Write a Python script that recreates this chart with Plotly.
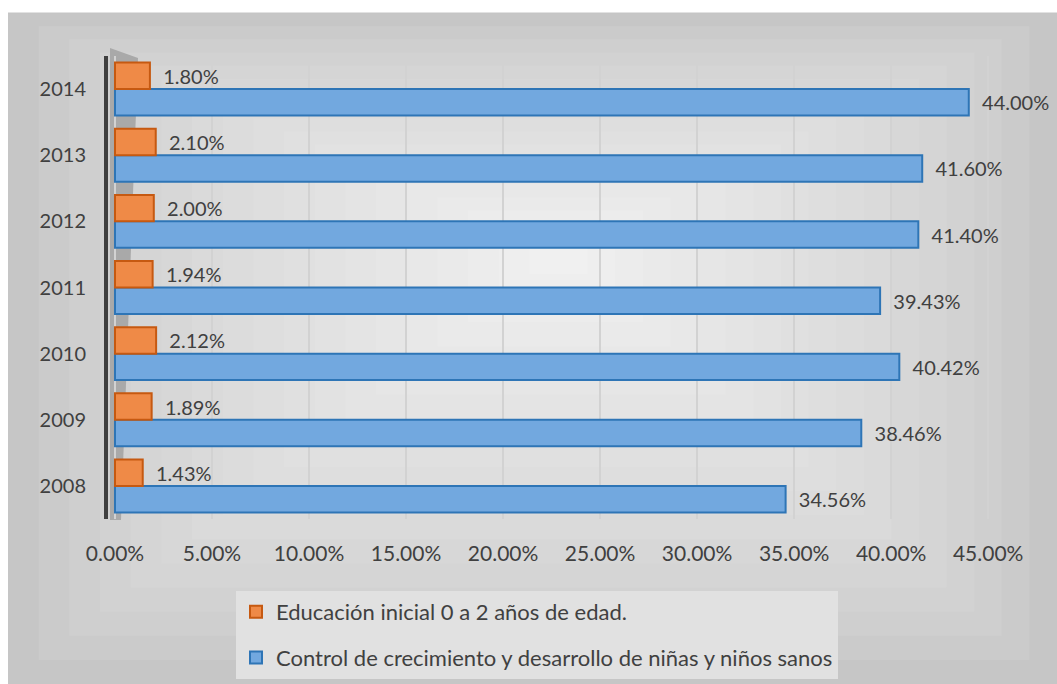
import plotly.graph_objects as go

years = ["2008", "2009", "2010", "2011", "2012", "2013", "2014"]
educacion = [1.43, 1.89, 2.12, 1.94, 2.00, 2.10, 1.80]
control = [34.56, 38.46, 40.42, 39.43, 41.40, 41.60, 44.00]
name_edu = "Educación inicial 0 a 2 años de edad."
name_ctrl = "Control de crecimiento y desarrollo de niñas y niños sanos"

W, H = 1057, 684
L, R, T, B = 108, 30, 56, 165
pw, ph = W - L - R, H - T - B
XMIN, XMAX = -0.36, 47

def px_x(p):
    return (p - L) / pw

def px_y(p):
    return (H - B - p) / ph

FONT = "Lato"
TXT = "#404040"
FS = 21

fig = go.Figure()
fig.add_trace(go.Bar(
    y=years, x=control, orientation="h", name=name_ctrl,
    marker=dict(color="#72a8df", line=dict(color="#2e75b6", width=2)),
    texttemplate="  %{x:.2f}%", textposition="outside",
    textfont=dict(family=FONT, size=20, color=TXT),
    cliponaxis=False, legendrank=2, legendgroup="b",
))
fig.add_trace(go.Bar(
    y=years, x=educacion, orientation="h", name=name_edu,
    marker=dict(color="#ef8a47", line=dict(color="#c65911", width=2)),
    texttemplate="  %{x:.2f}%", textposition="outside",
    textfont=dict(family=FONT, size=20, color=TXT),
    cliponaxis=False, legendrank=1, legendgroup="a",
))

# background vignette (decorative)
shapes = []
x0p, x1p, y0p, y1p = 8, W, 13, H
cx, cy = 560, 250
n = 18
c_out, c_in = 0xc6, 0xf0
for i in range(n):
    f = i / n
    ax0 = x0p + (cx - x0p) * f
    ax1 = x1p - (x1p - cx) * f
    ay0 = y0p + (cy - y0p) * f
    ay1 = y1p - (y1p - cy) * f
    c = int(c_out + (c_in - c_out) * (i / (n - 1)) ** 0.7)
    col = f"rgb({c},{c},{c})"
    shapes.append(dict(type="rect", xref="paper", yref="paper", layer="below",
                       x0=px_x(ax0), x1=px_x(ax1), y0=px_y(ay1), y1=px_y(ay0),
                       fillcolor=col, line=dict(width=0)))
# thin top border of the panel
shapes.append(dict(type="line", xref="paper", yref="paper", layer="below",
                   x0=px_x(8), x1=px_x(W), y0=px_y(13), y1=px_y(13),
                   line=dict(color="#c4c4c4", width=1)))
# grey side wall next to the vertical axis
p1, p2, p3 = px_x(110), px_x(138), px_x(121)
ytop, ybot = px_y(48), px_y(520)
shapes.append(dict(type="path", xref="paper", yref="paper", layer="below",
                   path=f"M {p1} {ytop} L {p2} {px_y(58)} L {p3} {ybot} L {p1} {ybot} Z",
                   fillcolor="#a9a9a9", line=dict(width=0)))
fig.update_layout(shapes=shapes)

fig.update_layout(
    width=W, height=H,
    margin=dict(l=L, r=R, t=T, b=B, autoexpand=False),
    paper_bgcolor="white", plot_bgcolor="rgba(0,0,0,0)",
    barmode="group", bargap=0.2, bargroupgap=0,
    font=dict(family=FONT, size=FS, color=TXT),
    showlegend=True,
    legend=dict(
        x=px_x(236), y=px_y(591),
        xanchor="left", yanchor="top", bgcolor="#e1e1e1",
        font=dict(family=FONT, size=22, color=TXT),
        traceorder="grouped", tracegroupgap=14,
    ),
    xaxis=dict(
        range=[XMIN, XMAX], tick0=0, dtick=5, tickformat=".2f", ticksuffix="%",
        tickangle=0,
        showgrid=True, gridcolor="#d2d2d2", gridwidth=1.5, zeroline=False,
        showline=False, ticks="", ticklabelstandoff=20,
        tickfont=dict(family=FONT, size=FS, color=TXT),
    ),
    yaxis=dict(
        type="category", showgrid=False, zeroline=False,
        showline=True, linecolor="#404040", linewidth=4, ticks="",
        ticklabelstandoff=14,
        tickfont=dict(family=FONT, size=20, color=TXT),
    ),
)

fig.write_html("out.html", config={"displayModeBar": False},
               post_script="document.body.style.margin='0';")
